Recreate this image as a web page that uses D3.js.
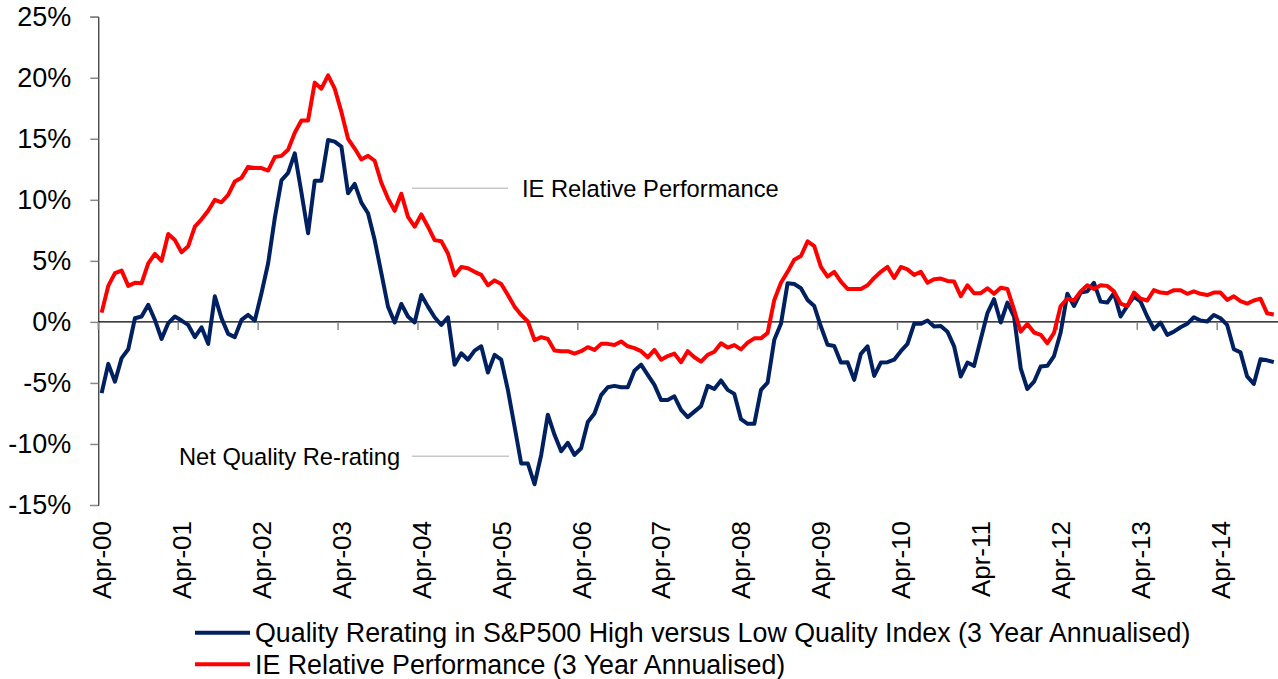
<!DOCTYPE html>
<html>
<head>
<meta charset="utf-8">
<script src="https://cdn.jsdelivr.net/npm/d3@7"></script>
<style>
  body { margin: 0; background: #fff; }
  text { font-family: Arial, "Liberation Sans", sans-serif; fill: #000; }
</style>
</head>
<body>
<div id="chart"></div>
<script>
// monthly categories, Apr-00 .. Dec-14
const months = d3.timeMonth.range(new Date(2000, 3, 1), new Date(2015, 0, 1));
const tickLabels = ["Apr-00","Apr-01","Apr-02","Apr-03","Apr-04","Apr-05","Apr-06","Apr-07",
  "Apr-08","Apr-09","Apr-10","Apr-11","Apr-12","Apr-13","Apr-14"];
const yTicks = [-15, -10, -5, 0, 5, 10, 15, 20, 25];

// Quality Rerating in S&P500 High versus Low Quality Index (3 Year Annualised), %
const quality = [
  -5.84, -3.44, -4.9, -2.97, -2.24, 0.3, 0.44, 1.4, 0.16, -1.4, -0.1, 0.44,
  0.11, -0.25, -1.25, -0.44, -1.8, 2.1, 0.3, -0.98, -1.25, 0.16, 0.57, 0.11,
  2.35, 4.8, 8.5, 11.6, 12.2, 13.8, 10.6, 7.26, 11.57, 11.57, 14.9, 14.77,
  14.36, 10.54, 11.3, 9.77, 8.9, 6.7, 4.0, 1.25, -0.05, 1.47, 0.44, -0.05,
  2.2, 1.25, 0.38, -0.25, 0.38, -3.5, -2.57, -3.1, -2.35, -2.0, -4.15, -2.7,
  -3.1, -5.57, -8.57, -11.6, -11.6, -13.3, -10.9, -7.6, -9.25, -10.6, -9.9, -10.9,
  -10.35, -8.2, -7.5, -6.0, -5.35, -5.24, -5.35, -5.35, -4.0, -3.5, -4.34, -5.16,
  -6.4, -6.4, -6.1, -7.2, -7.8, -7.35, -6.9, -5.24, -5.5, -4.8, -5.57, -5.9,
  -7.97, -8.35, -8.35, -5.57, -4.97, -1.47, -0.16, 3.17, 3.1, 2.76, 1.8, 1.3,
  -0.38, -1.88, -1.97, -3.33, -3.3, -4.75, -2.62, -2.0, -4.42, -3.33, -3.3, -3.1,
  -2.4, -1.8, -0.16, -0.16, 0.11, -0.38, -0.33, -0.8, -2.0, -4.47, -3.33, -3.6,
  -1.42, 0.71, 1.86, -0.05, 1.58, 0.44, -3.8, -5.5, -4.9, -3.66, -3.6, -2.8,
  -0.87, 2.3, 1.3, 2.4, 2.5, 3.2, 1.66, 1.58, 2.35, 0.44, 1.3, 2.08,
  1.66, 0.44, -0.6, -0.05, -1.06, -0.8, -0.44, -0.16, 0.38, 0.11, 0.03, 0.57,
  0.3, -0.25, -2.24, -2.5, -4.47, -5.08, -3.06, -3.15, -3.3
];

// IE Relative Performance (3 Year Annualised), %
const relPerf = [
  0.76, 2.95, 3.99, 4.2, 2.95, 3.2, 3.17, 4.8, 5.57, 5.0, 7.2, 6.7,
  5.7, 6.2, 7.8, 8.4, 9.1, 10.0, 9.8, 10.4, 11.5, 11.8, 12.7, 12.6,
  12.6, 12.4, 13.5, 13.6, 14.1, 15.5, 16.5, 16.5, 19.6, 19.1, 20.2, 19.1,
  17.2, 15.0, 14.2, 13.3, 13.6, 13.2, 11.4, 10.1, 9.1, 10.5, 8.6, 7.8,
  8.8, 7.8, 6.7, 6.6, 5.6, 3.8, 4.5, 4.4, 4.1, 3.85, 3.0, 3.4,
  3.1, 2.2, 1.25, 0.57, 0.03, -1.5, -1.25, -1.4, -2.35, -2.4, -2.4, -2.6,
  -2.4, -2.07, -2.3, -1.8, -1.8, -1.9, -1.6, -2.0, -2.15, -2.4, -2.9, -2.3,
  -3.1, -2.8, -2.6, -3.3, -2.4, -2.9, -3.25, -2.7, -2.45, -1.75, -2.1, -1.9,
  -2.25, -1.7, -1.35, -1.35, -0.9, 1.8, 3.2, 4.1, 5.1, 5.4, 6.6, 6.2,
  4.5, 3.7, 4.1, 3.3, 2.7, 2.7, 2.7, 3.0, 3.6, 4.1, 4.5, 3.6,
  4.5, 4.3, 3.85, 4.1, 3.2, 3.5, 3.55, 3.35, 3.3, 2.1, 3.0, 2.35,
  2.35, 2.75, 2.3, 2.8, 2.7, 1.0, -0.8, -0.17, -0.87, -1.06, -1.75, -0.9,
  1.3, 1.9, 1.75, 2.5, 3.0, 2.7, 3.0, 2.95, 2.5, 1.5, 1.3, 2.4,
  1.9, 1.75, 2.6, 2.4, 2.35, 2.6, 2.6, 2.3, 2.5, 2.3, 2.2, 2.4,
  2.4, 1.8, 2.1, 1.7, 1.5, 1.75, 1.9, 0.7, 0.6
];

const seriesNames = [
  "Quality Rerating in S&P500 High versus Low Quality Index (3 Year Annualised)",
  "IE Relative Performance (3 Year Annualised)"
];
const seriesColors = ["#002060", "#ff0000"];

const width = 1278, height = 679;
const svg = d3.select("#chart").append("svg").attr("width", width).attr("height", height);

const fmt = d3.timeFormat("%b-%y");
const cats = months.map(fmt);

const x = d3.scaleBand().domain(cats).range([98.3, 98.3 + cats.length * 6.66]).padding(0);
const y = d3.scaleLinear().domain([-15, 25]).range([505, 16.7]);
const cx = (i) => x(cats[i]) + x.bandwidth() / 2;

// y axis
const yAxis = svg.append("g").attr("transform", `translate(${x.range()[0]},0)`)
  .call(d3.axisLeft(y).tickValues(yTicks).tickSize(8).tickPadding(19).tickFormat(d => d + "%"));
yAxis.select(".domain").attr("stroke", "#000").attr("stroke-width", 1);
yAxis.selectAll(".tick line").attr("stroke", "#888").attr("stroke-width", 1.5);
yAxis.selectAll(".tick text").style("font-size", "27px").attr("fill", "#000")
  .attr("font-family", "Arial, 'Liberation Sans', sans-serif");

// zero line
svg.append("line")
  .attr("x1", x.range()[0]).attr("x2", width)
  .attr("y1", y(0)).attr("y2", y(0))
  .attr("stroke", "#000").attr("stroke-width", 1.2);

// x ticks at year boundaries
const tickIdx = tickLabels.map(t => cats.indexOf(t));
svg.append("g").selectAll("line").data(tickIdx).join("line")
  .attr("x1", i => x(cats[i])).attr("x2", i => x(cats[i]))
  .attr("y1", y(0)).attr("y2", y(0) + 8)
  .attr("stroke", "#888").attr("stroke-width", 1.5);

// x labels, rotated
svg.append("g").selectAll("text").data(tickLabels).join("text")
  .attr("transform", d => `translate(${cx(cats.indexOf(d))},521) rotate(-90)`)
  .attr("text-anchor", "end")
  .attr("dy", "0.36em")
  .style("font-size", "26px")
  .text(d => d);

// annotations
const notes = [
  { text: "IE Relative Performance", v: 10.95 },
  { text: "Net Quality Re-rating", v: -11.0 }
];
svg.append("line").attr("x1", 412).attr("x2", 508)
  .attr("y1", y(notes[0].v)).attr("y2", y(notes[0].v))
  .attr("stroke", "#c8c8c8").attr("stroke-width", 1.5);
svg.append("text").attr("x", 522).attr("y", y(notes[0].v)).attr("dy", "0.35em")
  .style("font-size", "23.7px").text(notes[0].text);
svg.append("line").attr("x1", 412).attr("x2", 509)
  .attr("y1", y(notes[1].v)).attr("y2", y(notes[1].v))
  .attr("stroke", "#c8c8c8").attr("stroke-width", 1.5);
svg.append("text").attr("x", 179).attr("y", y(notes[1].v) + 1).attr("dy", "0.35em")
  .style("font-size", "23.7px").text(notes[1].text);

// series
const line = d3.line().x((d, i) => cx(i)).y(d => y(d));
[quality, relPerf].forEach((s, k) => {
  svg.append("path").datum(s)
    .attr("d", line)
    .attr("fill", "none")
    .attr("stroke", seriesColors[k])
    .attr("stroke-width", 4)
    .attr("stroke-linejoin", "round");
});

// legend
const legend = svg.append("g");
seriesNames.forEach((name, k) => {
  const ly = 632.7 + k * 31.6;
  legend.append("line").attr("x1", 195).attr("x2", 250).attr("y1", ly).attr("y2", ly)
    .attr("stroke", seriesColors[k]).attr("stroke-width", 4);
  legend.append("text").attr("x", 255).attr("y", ly).attr("dy", "0.35em")
    .style("font-size", "26.8px").text(name);
});
</script>
</body>
</html>
